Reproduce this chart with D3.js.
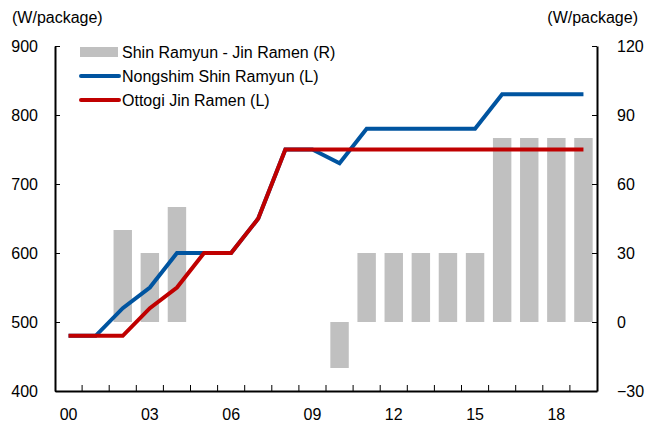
<!DOCTYPE html>
<html>
<head>
<meta charset="utf-8">
<script src="https://cdn.jsdelivr.net/npm/d3@7"></script>
<style>
  body { margin: 0; background: #fff; }
  svg { font-family: 'Liberation Sans', Arial, sans-serif; }
</style>
</head>
<body>
<div id="chart"></div>
<script>
'use strict';

const years = ['00','01','02','03','04','05','06','07','08','09','10','11','12','13','14','15','16','17','18','19']
const shin_ramyun = [480,480,520,550,600,600,600,650,750,750,730,780,780,780,780,780,830,830,830,830]
const jin_ramen = [480,480,480,520,550,600,600,650,750,750,750,750,750,750,750,750,750,750,750,750]
const price_gap = [0,0,40,30,50,0,0,0,0,0,-20,30,30,30,30,30,80,80,80,80]
const x_labels = ['00','03','06','09','12','15','18']
const left_ticks = [400,500,600,700,800,900]
const right_ticks = [-30,0,30,60,90,120]

const dimensions = {
  width: 652,
  height: 426,
  margin: { top: 46, bottom: 35, left: 55, right: 55 }
}
dimensions.ctrWidth = dimensions.width - dimensions.margin.left - dimensions.margin.right
dimensions.ctrHeight = dimensions.height - dimensions.margin.top - dimensions.margin.bottom

const svg = d3.select('#chart').append('svg')
  .attr('width', dimensions.width)
  .attr('height', dimensions.height)

const chart_g = svg.append('g')
  .attr('transform', `translate(${dimensions.margin.left}, ${dimensions.margin.top})`)

const xScale = d3.scaleBand()
  .domain(years)
  .range([0, dimensions.ctrWidth])
const barScale = d3.scaleBand()
  .domain(years)
  .range([0, dimensions.ctrWidth])
  .paddingInner(0.32)
  .paddingOuter(0.16)

const yLeft = d3.scaleLinear().domain([400, 900]).range([dimensions.ctrHeight, 0])
const yRight = d3.scaleLinear().domain([-30, 120]).range([dimensions.ctrHeight, 0])

// bars (right axis)
chart_g.append('g')
  .selectAll('rect')
  .data(price_gap.map((v, i) => ({ year: years[i], value: v })).filter(d => d.value !== 0))
  .join('rect')
  .attr('x', d => barScale(d.year))
  .attr('width', barScale.bandwidth())
  .attr('y', d => yRight(Math.max(0, d.value)))
  .attr('height', d => Math.abs(yRight(d.value) - yRight(0)))
  .attr('fill', '#c0c0c0')

// lines (left axis)
const line_gen = d3.line()
  .x((d, i) => xScale(years[i]) + xScale.bandwidth() / 2)
  .y(d => yLeft(d))

const series = [
  { name: 'Nongshim Shin Ramyun (L)', values: shin_ramyun, color: '#0054a0' },
  { name: 'Ottogi Jin Ramen (L)', values: jin_ramen, color: '#c00000' }
]

chart_g.append('g')
  .selectAll('path')
  .data(series)
  .join('path')
  .attr('d', d => line_gen(d.values))
  .attr('fill', 'none')
  .attr('stroke', d => d.color)
  .attr('stroke-width', 4)
  .attr('stroke-linejoin', 'miter')

// axes
const xAxis = d3.axisBottom(xScale)
  .tickValues([])
  .tickSizeOuter(0)
const xAxisGroup = chart_g.append('g')
  .attr('transform', `translate(0, ${dimensions.ctrHeight})`)
  .call(xAxis)
xAxisGroup.select('.domain').attr('stroke', '#000').attr('stroke-width', 2)
// inward tick marks on the category boundaries
xAxisGroup.selectAll('.bound')
  .data(years.slice(1))
  .join('line')
  .attr('x1', d => xScale(d))
  .attr('x2', d => xScale(d))
  .attr('y1', 0)
  .attr('y2', -6)
  .attr('stroke', '#000')
  .attr('stroke-width', 1)
xAxisGroup.selectAll('.lbl')
  .data(x_labels)
  .join('text')
  .attr('x', d => xScale(d) + xScale.bandwidth() / 2)
  .attr('y', 29)
  .attr('text-anchor', 'middle')
  .attr('font-size', 16)
  .attr('fill', '#000')
  .text(d => d)

const yAxisL = d3.axisLeft(yLeft)
  .tickValues(left_ticks)
  .tickSizeInner(-5)
  .tickSizeOuter(0)
  .tickPadding(17)
const yAxisLGroup = chart_g.append('g').call(yAxisL)
yAxisLGroup.select('.domain').attr('stroke-width', 2)
yAxisLGroup.selectAll('text').attr('font-size', 16).attr('font-family', null)

const yAxisR = d3.axisRight(yRight)
  .tickValues(right_ticks)
  .tickSizeInner(-5)
  .tickSizeOuter(0)
  .tickPadding(20)
const yAxisRGroup = chart_g.append('g')
  .attr('transform', `translate(${dimensions.ctrWidth}, 0)`)
  .call(yAxisR)
yAxisRGroup.select('.domain').attr('stroke-width', 2)
yAxisRGroup.selectAll('text').attr('font-size', 16).attr('font-family', null)
  .attr('text-anchor', 'start')

// units
svg.append('text')
  .attr('x', 12)
  .attr('y', 23)
  .attr('font-size', 16)
  .text('(W/package)')
svg.append('text')
  .attr('x', 638)
  .attr('y', 23)
  .attr('font-size', 16)
  .attr('text-anchor', 'end')
  .text('(W/package)')

// legend
const legend = svg.append('g').attr('transform', 'translate(80, 52)')
const legend_items = [
  { name: 'Shin Ramyun - Jin Ramen (R)', type: 'bar', color: '#c0c0c0' },
  { name: series[0].name, type: 'line', color: series[0].color },
  { name: series[1].name, type: 'line', color: series[1].color }
]
const legendRow = legend.selectAll('g')
  .data(legend_items)
  .join('g')
  .attr('transform', (d, i) => `translate(0, ${i * 24})`)
legendRow.filter(d => d.type === 'bar').append('rect')
  .attr('x', 0).attr('y', -5).attr('width', 38).attr('height', 10)
  .attr('fill', d => d.color)
legendRow.filter(d => d.type === 'line').append('line')
  .attr('x1', 1).attr('x2', 39).attr('y1', 0).attr('y2', 0)
  .attr('stroke', d => d.color).attr('stroke-width', 4).attr('stroke-linecap', 'round')
legendRow.append('text')
  .attr('x', 42)
  .attr('y', 0)
  .attr('dy', '0.35em')
  .attr('font-size', 16)
  .text(d => d.name)
</script>
</body>
</html>
